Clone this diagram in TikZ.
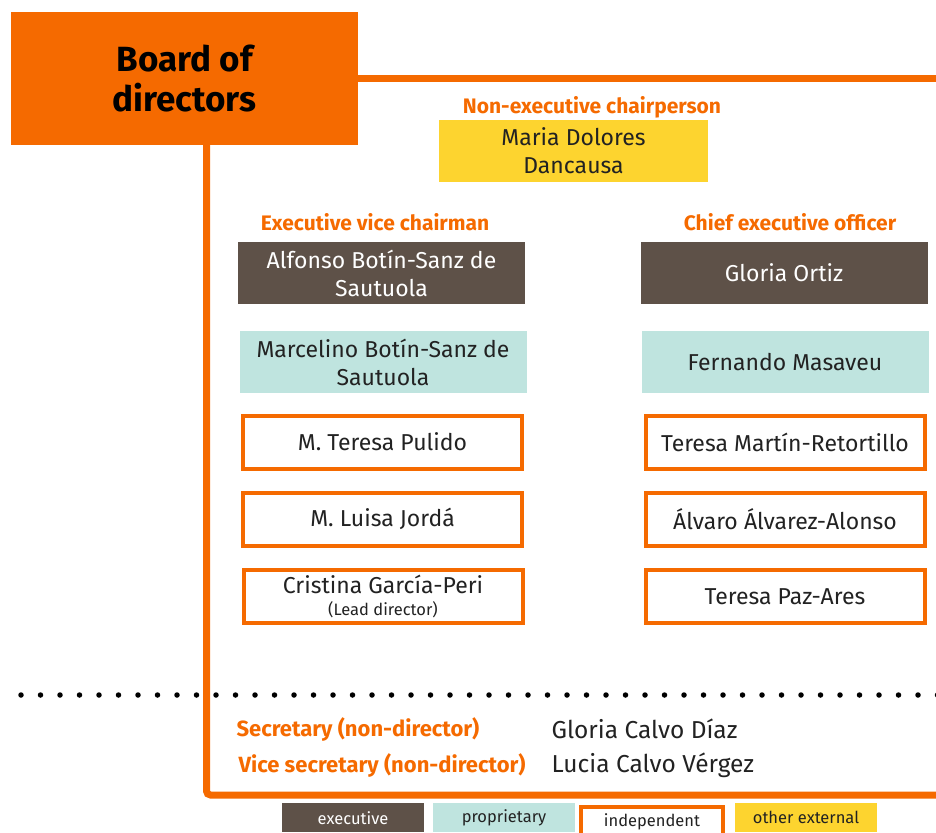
\documentclass[tikz,border=0pt]{standalone}
\usepackage{fontspec}
\setmainfont{Fira Sans}
\usetikzlibrary{calc}
\definecolor{santorange}{HTML}{F56A00}
\definecolor{execbrown}{HTML}{5E5148}
\definecolor{proptea}{HTML}{BFE4DF}
\definecolor{extyellow}{HTML}{FDD42F}
\definecolor{inkgray}{HTML}{222222}
\begin{document}
\begin{tikzpicture}[x=1pt,y=-1pt,
  bus/.style={draw=santorange,line width=7pt},
  role/.style={text=santorange,font=\fontsize{21}{23}\selectfont\bfseries},
  member/.style={minimum width=#1,minimum height=62pt,align=center,inner sep=0pt,
     text=inkgray,font=\fontsize{23}{28}\selectfont},
  member/.default=287pt,
  execbox/.style={member,fill=execbrown,text=white},
  propbox/.style={member,fill=proptea},
  extbox/.style={member=269pt,fill=extyellow},
  indepbox/.style={member=279pt,minimum height=53pt,draw=santorange,line width=4pt,fill=white},
  legend/.style={minimum width=142pt,minimum height=29pt,inner sep=0pt,
     font=\fontsize{16.5}{18}\selectfont,text=inkgray},
  secname/.style={anchor=west,text=inkgray,font=\fontsize{24.5}{27}\selectfont},
  secrole/.style={anchor=west,role,font=\fontsize{22}{24}\selectfont\bfseries}
]
\useasboundingbox (0,0) rectangle (936,832);

% board box and its bus lines
\node[fill=santorange,minimum width=347pt,minimum height=133pt,inner sep=0pt,
      align=center,font=\fontsize{35}{40}\selectfont\bfseries,text=black]
  (board) at (184.5,78.5) {Board of\\directors};
\coordinate (topend) at (936,78.5);
\coordinate (corner) at (206.5,795);
\coordinate (botend) at (936,795);
\draw[bus] (board.east) -- (topend);
\draw[bus,rounded corners=4pt] (board.south -| corner) -- (corner) -- (botend);

% chairperson
\node[role] (chairlbl) at (592,107) {Non-executive chairperson};
\node[extbox] (chair) at (573.5,151) {Maria Dolores\\Dancausa};

% left column
\node[role] (evclbl) at (375,222) {Executive vice chairman};
\node[execbox] (alfonso) at (381.5,273) {Alfonso Botín-Sanz de\\Sautuola};
\node[propbox] (marcelino) at (383,362) {Marcelino Botín-Sanz de\\Sautuola};
\node[indepbox] (pulido) at (382.5,442) {M. Teresa Pulido};
\node[indepbox] (jorda) at (382.5,519) {M. Luisa Jordá};
\node[indepbox,font=\fontsize{23}{24}\selectfont] (garcia) at (383,596.5)
  {Cristina García-Peri\\[-2pt]{\fontsize{16.5}{17}\selectfont(Lead director)}};

% right column
\node[role] (ceolbl) at (790,222) {Chief executive officer};
\node[execbox] (ortiz) at (784,273) {Gloria Ortiz};
\node[propbox] (masaveu) at (785,362) {Fernando Masaveu};
\node[indepbox] (martin) at (785,442) {Teresa Martín-Retortillo};
\node[indepbox] (alvarez) at (785,519) {Álvaro Álvarez-Alonso};
\node[indepbox] (paz) at (785,596.5) {Teresa Paz-Ares};

% separator
\coordinate (dotstart) at (21,695);
\coordinate (dotend) at (938,695);
\draw[line width=5.5pt,line cap=round,dash pattern=on 0pt off 19.5pt,black] (dotstart) -- (dotend);

% secretaries
\node[secrole] (seclbl) at (233,729) {Secretary (non-director)};
\node[secrole] (vseclbl) at (235,765) {Vice secretary (non-director)};
\node[secname] (secname) at (548,729) {Gloria Calvo Díaz};
\node[secname] (vsecname) at (548,765) {Lucia Calvo Vérgez};

% legend
\node[legend,fill=execbrown,text=white,anchor=north] (lexec) at (353,803) {executive};
\node[legend,fill=proptea,anchor=north] (lprop) at (504,803) {proprietary};
\node[legend,draw=santorange,line width=4pt,fill=white,anchor=north] (lind) at (652,805) {independent};
\node[legend,fill=extyellow,anchor=north] (lext) at (806,803) {other external};
\end{tikzpicture}
\end{document}
